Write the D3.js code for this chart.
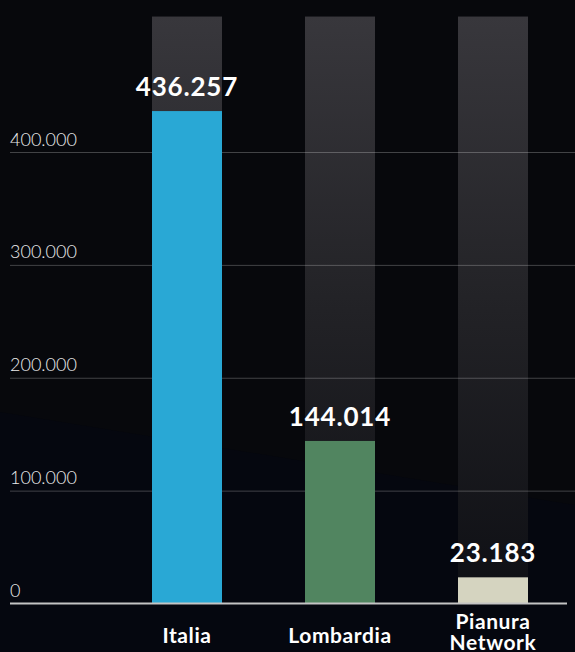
<!DOCTYPE html>
<html>
<head>
<meta charset="utf-8">
<script src="https://cdn.jsdelivr.net/npm/d3@7"></script>
<style>
  html, body { margin: 0; padding: 0; background: #07080c; }
  svg { display: block; }
</style>
</head>
<body>
<svg id="chart" width="575" height="652"></svg>
<script>
// Data
const categories = ["Italia", "Lombardia", "Pianura Network"];
const values = [436257, 144014, 23183];
const barColors = ["#29a8d5", "#518560", "#d5d4c0"];
const tickValues = [0, 100000, 200000, 300000, 400000];
const tickLabels = ["0", "100.000", "200.000", "300.000", "400.000"];
const trackMax = 520000;

const W = 575, H = 652;
const svg = d3.select("#chart");

const x = d3.scaleBand()
  .domain(categories)
  .range([110.5, 569.5])
  .paddingInner(0.5425)
  .paddingOuter(0.27125);

const y = d3.scaleLinear()
  .domain([0, 400000])
  .range([603.5, 152]);

const fmt = v => d3.format(",")(v).replace(/,/g, ".");

// Background
svg.append("rect").attr("width", W).attr("height", H).attr("fill", "#07080c");
svg.append("polygon")
  .attr("points", `0,412 575,505 575,${H} 0,${H}`)
  .attr("fill", "#05070f");

const defs = svg.append("defs");
const grad = defs.append("linearGradient")
  .attr("id", "trackGrad")
  .attr("gradientUnits", "userSpaceOnUse")
  .attr("x1", 0).attr("x2", 0)
  .attr("y1", y(trackMax)).attr("y2", y(0));
grad.append("stop").attr("offset", 0).attr("stop-color", "#38373c");
grad.append("stop").attr("offset", 0.5).attr("stop-color", "#222226");
grad.append("stop").attr("offset", 1).attr("stop-color", "#0e0f14");

// Tracks behind each bar
svg.append("g").selectAll("rect")
  .data(categories)
  .join("rect")
  .attr("x", d => x(d))
  .attr("width", x.bandwidth())
  .attr("y", y(trackMax))
  .attr("height", y(0) - y(trackMax))
  .attr("fill", "url(#trackGrad)");

// Gridlines
const yAxis = d3.axisLeft(y)
  .tickValues(tickValues.slice(1))
  .tickSize(-(W - 10))
  .tickFormat("");
const gAxis = svg.append("g").attr("transform", `translate(10,0)`).call(yAxis);
gAxis.select(".domain").remove();
gAxis.selectAll(".tick line")
  .attr("x1", 0).attr("x2", W - 10)
  .attr("stroke", "#ffffff").attr("stroke-opacity", 0.24).attr("stroke-width", 1);

// Tick labels
svg.append("g").selectAll("text")
  .data(tickValues)
  .join("text")
  .attr("x", 10)
  .attr("y", d => y(d) - 6.5)
  .attr("fill", "#ececec")
  .attr("font-family", "Lato, sans-serif")
  .attr("font-weight", 300)
  .attr("font-size", 18)
  .text((d, i) => tickLabels[i]);

// Bars
svg.append("g").selectAll("rect")
  .data(values)
  .join("rect")
  .attr("x", (d, i) => x(categories[i]))
  .attr("width", x.bandwidth())
  .attr("y", d => y(d))
  .attr("height", d => y(0) - y(d))
  .attr("fill", (d, i) => barColors[i]);

// Baseline
svg.append("line")
  .attr("x1", 10).attr("x2", 567)
  .attr("y1", y(0)).attr("y2", y(0))
  .attr("stroke", "#c4c4c4").attr("stroke-width", 2);

// Value labels
svg.append("g").selectAll("text")
  .data(values)
  .join("text")
  .attr("x", (d, i) => x(categories[i]) + x.bandwidth() / 2)
  .attr("y", d => y(d) - 15)
  .attr("text-anchor", "middle")
  .attr("fill", "#ffffff")
  .attr("font-family", "Lato, sans-serif")
  .attr("font-weight", 700)
  .attr("font-size", 26)
  .attr("letter-spacing", 0.8)
  .text(d => fmt(d));

// Category labels (multi-word names wrap onto two lines)
const catG = svg.append("g");
categories.forEach((c, i) => {
  const words = c.split(" ");
  const cx = x(c) + x.bandwidth() / 2;
  const t = catG.append("text")
    .attr("text-anchor", "middle")
    .attr("fill", "#ffffff")
    .attr("font-family", "Lato, sans-serif")
    .attr("font-weight", 700)
    .attr("font-size", 21)
    .attr("letter-spacing", 0.6);
  const y0 = words.length > 1 ? 629 : 643;
  words.forEach((w, j) => {
    t.append("tspan").attr("x", cx).attr("y", y0 + j * 21).text(w);
  });
});
</script>
</body>
</html>
